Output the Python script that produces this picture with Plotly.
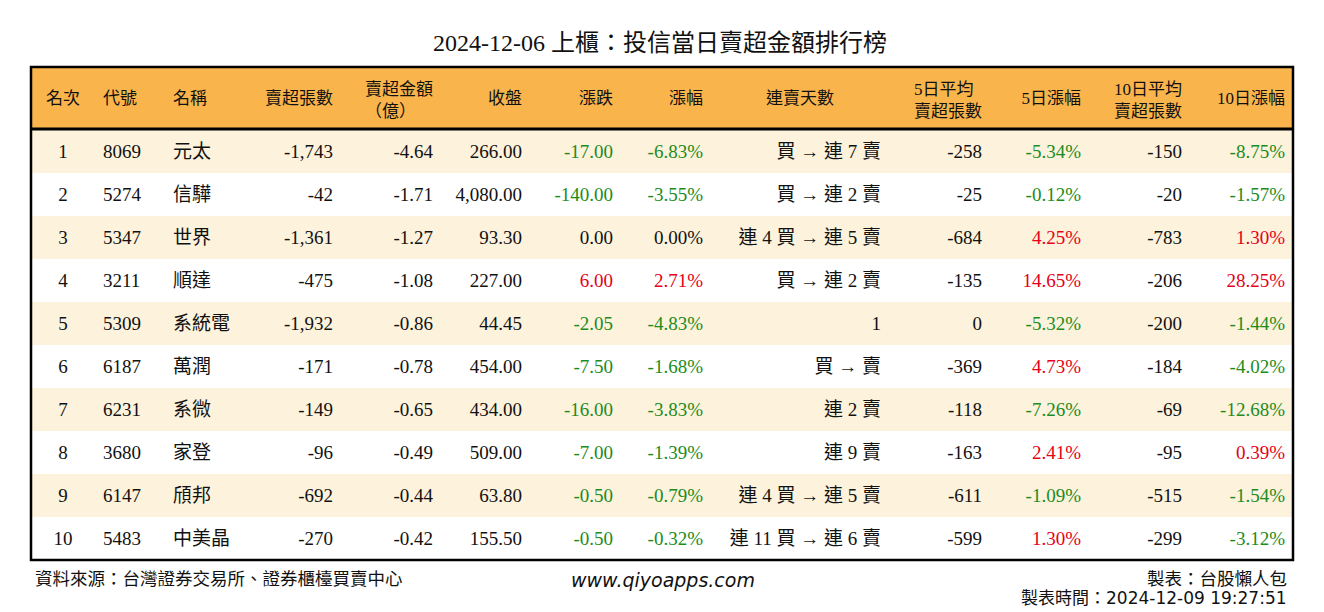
import plotly.graph_objects as go

title = "2024-12-06 上櫃：投信當日賣超金額排行榜"
headers = ["名次", "代號", "名稱", "賣超張數", "賣超金額<br>（億）", "收盤", "漲跌", "漲幅",
           "連賣天數", "5日平均<br>賣超張數", "5日漲幅", "10日平均<br>賣超張數", "10日漲幅"]

rank = [1, 2, 3, 4, 5, 6, 7, 8, 9, 10]
code = ["8069", "5274", "5347", "3211", "5309", "6187", "6231", "3680", "6147", "5483"]
name = ["元太", "信驊", "世界", "順達", "系統電", "萬潤", "系微", "家登", "頎邦", "中美晶"]
net_lots = [-1743, -42, -1361, -475, -1932, -171, -149, -96, -692, -270]
amount = [-4.64, -1.71, -1.27, -1.08, -0.86, -0.78, -0.65, -0.49, -0.44, -0.42]
close = [266.00, 4080.00, 93.30, 227.00, 44.45, 454.00, 434.00, 509.00, 63.80, 155.50]
change = [-17.00, -140.00, 0.00, 6.00, -2.05, -7.50, -16.00, -7.00, -0.50, -0.50]
pct = [-6.83, -3.55, 0.00, 2.71, -4.83, -1.68, -3.83, -1.39, -0.79, -0.32]
streak = ["買 → 連 7 賣", "買 → 連 2 賣", "連 4 買 → 連 5 賣", "買 → 連 2 賣", "1",
          "買 → 賣", "連 2 賣", "連 9 賣", "連 4 買 → 連 5 賣", "連 11 買 → 連 6 賣"]
avg5 = [-258, -25, -684, -135, 0, -369, -118, -163, -611, -599]
pct5 = [-5.34, -0.12, 4.25, 14.65, -5.32, 4.73, -7.26, 2.41, -1.09, 1.30]
avg10 = [-150, -20, -783, -206, -200, -184, -69, -95, -515, -299]
pct10 = [-8.75, -1.57, 1.30, 28.25, -1.44, -4.02, -12.68, 0.39, -1.54, -3.12]

source_text = "資料來源：台灣證券交易所、證券櫃檯買賣中心"
site_text = "www.qiyoapps.com"
maker_text = "製表：台股懶人包"
time_text = "製表時間：2024-12-09 19:27:51"

GREEN = "#1c8c1c"
RED = "#e60018"
BLACK = "#111111"
HEADER_FILL = "#f9b44c"
ROW_A = "#fdf2dc"
ROW_B = "#ffffff"
CLEAR = "rgba(0,0,0,0)"


def sign_color(v):
    if v > 0:
        return RED
    if v < 0:
        return GREEN
    return BLACK


cols = [
    [str(r) for r in rank],
    code,
    name,
    [f"{v:,}" for v in net_lots],
    [f"{v:.2f}" for v in amount],
    [f"{v:,.2f}" for v in close],
    [f"{v:.2f}" for v in change],
    [f"{v:.2f}%" for v in pct],
    streak,
    [f"{v:,}" for v in avg5],
    [f"{v:.2f}%" for v in pct5],
    [f"{v:,}" for v in avg10],
    [f"{v:.2f}%" for v in pct10],
]
n_rows = len(rank)
n_cols = len(cols)

black_col = [BLACK] * n_rows
font_colors = [
    black_col, black_col, black_col, black_col, black_col, black_col,
    [sign_color(v) for v in change],
    [sign_color(v) for v in pct],
    black_col, black_col,
    [sign_color(v) for v in pct5],
    black_col,
    [sign_color(v) for v in pct10],
]

row_fill = [ROW_A if i % 2 == 0 else ROW_B for i in range(n_rows)]
col_widths = [64, 70, 76, 100, 100, 89, 91, 90, 178, 101, 99, 101, 103]
header_align = ["center", "left", "left", "right", "right", "right", "right", "right",
                "center", "right", "right", "right", "right"]
cell_align = ["center", "left", "left", "right", "right", "right", "right", "right",
              "right", "right", "right", "right", "right"]

W, H = 1324, 612
x0, x1 = 31, 1293
y_top, y_bot = 67, 560
dom_x = [x0 / W, x1 / W]

FONT = "Liberation Serif, 'Noto Sans CJK TC', serif"
HFONT = dict(family=FONT, size=17, color=BLACK)

two_line = ["<br>" in h for h in headers]
hdr_two = [h if t else "" for h, t in zip(headers, two_line)]
hdr_one = [h if not t else "" for h, t in zip(headers, two_line)]
empty_cells = [[""] * n_rows for _ in range(n_cols)]

# background table: fills only
bg = go.Table(
    domain=dict(x=dom_x, y=[1 - (y_bot + 1) / H, 1 - y_top / H]),
    columnwidth=col_widths,
    header=dict(values=[""] * n_cols, fill_color=HEADER_FILL,
                line=dict(color=HEADER_FILL, width=0), height=63, font=HFONT),
    cells=dict(values=empty_cells, fill_color=[row_fill] * n_cols,
               line=dict(color=[row_fill] * n_cols, width=0), height=43,
               font=dict(family=FONT, size=19)),
)

# text table: two-line headers and all cell values
txt = go.Table(
    domain=dict(x=dom_x, y=[1 - 605 / H, 1 - (y_top + 5) / H]),
    columnwidth=col_widths,
    header=dict(values=hdr_two, fill_color=CLEAR, line=dict(color=CLEAR, width=0),
                align=header_align, font=HFONT, height=64),
    cells=dict(values=cols, fill_color=CLEAR, line=dict(color=CLEAR, width=0),
               align=cell_align, font=dict(family=FONT, size=19, color=font_colors),
               height=43),
)

# single-line header labels
hdr = go.Table(
    domain=dict(x=dom_x, y=[1 - 200 / H, 1 - (y_top + 16) / H]),
    columnwidth=col_widths,
    header=dict(values=hdr_one, fill_color=CLEAR, line=dict(color=CLEAR, width=0),
                align=header_align, font=HFONT, height=40),
    cells=dict(values=[[] for _ in range(n_cols)], fill_color=CLEAR,
               line=dict(color=CLEAR, width=0)),
)

fig = go.Figure([bg, txt, hdr])

# outer border and header separator
fig.add_shape(type="rect", xref="paper", yref="paper",
              x0=x0 / W, x1=x1 / W, y0=1 - y_bot / H, y1=1 - y_top / H,
              line=dict(color="black", width=2.5))
fig.add_shape(type="line", xref="paper", yref="paper",
              x0=x0 / W, x1=x1 / W, y0=1 - 129 / H, y1=1 - 129 / H,
              line=dict(color="black", width=3))

fig.add_annotation(text=title, xref="paper", yref="paper", x=660 / W, y=1 - 43 / H,
                   xanchor="center", yanchor="middle", showarrow=False,
                   font=dict(family=FONT, size=24, color=BLACK))
fig.add_annotation(text=source_text, xref="paper", yref="paper", x=33 / W, y=1 - 577 / H,
                   xanchor="left", yanchor="middle", showarrow=False,
                   font=dict(family="'Noto Sans CJK TC', sans-serif", size=17.5, color=BLACK))
fig.add_annotation(text=f"<i>{site_text}</i>", xref="paper", yref="paper", x=663 / W, y=1 - 580 / H,
                   xanchor="center", yanchor="middle", showarrow=False,
                   font=dict(family="DejaVu Sans, sans-serif", size=19, color=BLACK))
fig.add_annotation(text=maker_text, xref="paper", yref="paper", x=1289 / W, y=1 - 577 / H,
                   xanchor="right", yanchor="middle", showarrow=False,
                   font=dict(family="'Noto Sans CJK TC', sans-serif", size=17.5, color=BLACK))
fig.add_annotation(text=time_text, xref="paper", yref="paper", x=1289 / W, y=1 - 598 / H,
                   xanchor="right", yanchor="middle", showarrow=False,
                   font=dict(family="DejaVu Sans, 'Noto Sans CJK TC', sans-serif", size=17, color=BLACK))

fig.update_layout(width=W, height=H, margin=dict(l=0, r=0, t=0, b=0),
                  paper_bgcolor="white", plot_bgcolor="white")

fig.write_html("out.html", post_script="document.body.style.margin='0';",
               config={"displayModeBar": False})
